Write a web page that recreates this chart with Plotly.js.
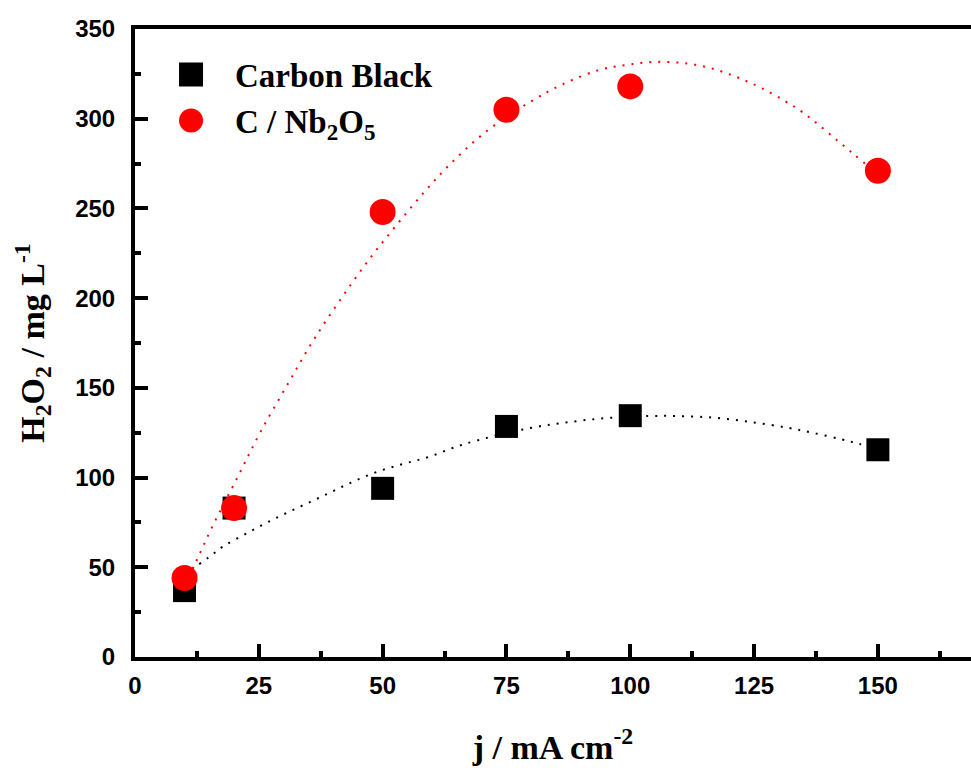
<!DOCTYPE html>
<html>
<head>
<meta charset="utf-8">
<script src="https://cdn.plot.ly/plotly-3.0.1.min.js"></script>
<style>
  html, body { margin: 0; padding: 0; background: #fff; overflow: hidden; }
  #chart { width: 971px; height: 768px; }
</style>
</head>
<body>
<div id="chart"></div>
<script>
// Current density (mA cm^-2) and measured H2O2 concentration (mg L^-1)
const currentDensity = [10, 20, 50, 75, 100, 150];
const carbonBlack = [37, 83, 94, 128.5, 134.5, 115.5];
const cNb2O5 = [44, 83, 248, 305, 318, 271];

// Dotted trend curves through each series
const blackFitX = [10, 14.9, 17.9, 23.0, 28.0, 33.1, 38.3, 43.3, 48.6, 54.0, 59.3, 66.3, 79.4, 88.7, 96.4, 103.6, 109.5, 116.7, 124.2, 131.7, 136.9, 142.7, 146.2, 150];
const blackFitY = [46, 55.6, 61.8, 69.6, 76.8, 83.5, 90.2, 96.8, 102.9, 107.5, 111.5, 118.5, 127.4, 131.3, 133.4, 134.3, 134.3, 133.4, 131.0, 127.8, 124.9, 121.3, 118.8, 116];
const redFitX = [10, 12.3, 15.5, 20.8, 25.2, 30.8, 36.5, 46.2, 52.2, 58.3, 63.5, 70.6, 79.8, 86.5, 93.8, 99.2, 104.6, 110.5, 116.1, 121.4, 126.4, 131.5, 134.7, 144.8, 150];
const redFitY = [40, 53, 72, 100.7, 124.7, 151.9, 178.6, 217.6, 238.7, 258.8, 274.3, 292.2, 309.4, 319.4, 327.2, 330.0, 331.6, 331.1, 328.3, 323.3, 317.2, 309.4, 303.8, 281.0, 269];

const xTicks = [0, 25, 50, 75, 100, 125, 150];
const yTicks = [0, 50, 100, 150, 200, 250, 300, 350];

const serif = 'Times New Roman, Liberation Serif, serif';
const sans = 'Arial, Liberation Sans, sans-serif';

const traces = [
  {
    x: blackFitX, y: blackFitY, type: 'scatter', mode: 'lines',
    line: { color: '#000000', width: 2, dash: '2px,7px', shape: 'spline' },
    showlegend: false, hoverinfo: 'skip'
  },
  {
    x: redFitX, y: redFitY, type: 'scatter', mode: 'lines',
    line: { color: '#ff0000', width: 2, dash: '2px,7px', shape: 'spline' },
    showlegend: false, hoverinfo: 'skip'
  },
  {
    x: currentDensity, y: carbonBlack, type: 'scatter', mode: 'markers',
    name: 'Carbon Black',
    marker: { symbol: 'square', size: 23, color: '#000000' }
  },
  {
    x: currentDensity, y: cNb2O5, type: 'scatter', mode: 'markers',
    name: 'C / Nb<sub>2</sub>O<sub>5</sub>',
    marker: { symbol: 'circle', size: 26, color: '#ff0000' }
  }
];

const layout = {
  width: 971,
  height: 768,
  margin: { l: 135, r: 0, t: 29, b: 111 },
  paper_bgcolor: '#ffffff',
  plot_bgcolor: '#ffffff',
  showlegend: true,
  legend: {
    x: 0.0144, y: 0.972, xanchor: 'left', yanchor: 'top',
    bgcolor: 'rgba(0,0,0,0)',
    font: { family: serif, size: 33, color: '#000', weight: 'bold' },
    itemwidth: 78,
    tracegroupgap: 0
  },
  xaxis: {
    range: [0, 168.8],
    tickvals: xTicks,
    ticktext: xTicks.map(String),
    ticks: 'inside', ticklen: 13, tickwidth: 4, tickcolor: '#000',
    minor: { dtick: 12.5, ticks: 'inside', ticklen: 6, tickwidth: 4, tickcolor: '#000' },
    showline: true, linecolor: '#000', linewidth: 4, mirror: true,
    showgrid: false, zeroline: false,
    ticklabelstandoff: 4,
    tickfont: { family: sans, size: 24, color: '#000', weight: 'bold' },
    title: {
      text: 'j / mA cm<sup>-2</sup>',
      font: { family: serif, size: 34, color: '#000', weight: 'bold' },
      standoff: 38
    }
  },
  yaxis: {
    range: [0, 350],
    tickvals: yTicks,
    ticktext: yTicks.map(String),
    ticks: 'inside', ticklen: 13, tickwidth: 4, tickcolor: '#000',
    minor: { dtick: 25, ticks: 'inside', ticklen: 6, tickwidth: 4, tickcolor: '#000' },
    showline: true, linecolor: '#000', linewidth: 4, mirror: true,
    showgrid: false, zeroline: false,
    ticklabelstandoff: 11,
    tickfont: { family: sans, size: 24, color: '#000', weight: 'bold' },
    title: {
      text: 'H<sub>2</sub>O<sub>2</sub> / mg L<sup>-1</sup>',
      font: { family: serif, size: 34, color: '#000', weight: 'bold' },
      standoff: 21
    }
  }
};

Plotly.newPlot('chart', traces, layout, { displayModeBar: false, staticPlot: true }).then(function (gd) {
  // Legend symbols are capped in size by the library; enlarge them to the plotted marker size
  gd.querySelectorAll('.legend path.scatterpts').forEach(function (p) {
    const t = p.getAttribute('transform') || '';
    p.setAttribute('transform', t + ' scale(1.5)');
  });
});
</script>
</body>
</html>
